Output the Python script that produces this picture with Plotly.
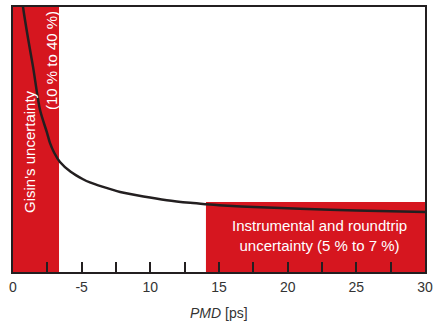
import plotly.graph_objects as go

# curve (PMD in ps, relative uncertainty on an arbitrary 0-1 scale)
pmd = [0.55, 0.73, 1.1, 1.46, 1.97, 2.48, 2.69, 3.0, 3.42, 4.2, 5.1, 5.6, 6.5, 7.8, 9.5, 11.2, 12.9, 14.0, 15.0, 18.0, 20.9, 25.0, 30.0]
uncert = [1.08, 1.0, 0.88, 0.774, 0.611, 0.525, 0.487, 0.45, 0.415, 0.378, 0.350, 0.338, 0.322, 0.302, 0.285, 0.271, 0.261, 0.256, 0.252, 0.244, 0.239, 0.232, 0.226]

# shaded regions
gisin_band = [0, 3.35]
instr_band = [14.05, 30]
instr_top = 0.264

tick_vals = [0, 2.5, 5, 7.5, 10, 12.5, 15, 17.5, 20, 22.5, 25, 27.5, 30]
tick_text = ["0", "", "-5", "", "10", "", "15", "", "20", "", "25", "", "30"]

red = "#d6161f"
font = "Liberation Sans, Arial, sans-serif"

fig = go.Figure()
fig.add_trace(go.Scatter(
    x=pmd, y=uncert, mode="lines",
    line=dict(color="#231f20", width=2.5, shape="spline", smoothing=0.8),
    hoverinfo="skip", showlegend=False,
))

fig.add_shape(type="rect", xref="x", yref="y", layer="below",
              x0=gisin_band[0], x1=gisin_band[1], y0=0, y1=1,
              fillcolor=red, line_width=0)
fig.add_shape(type="rect", xref="x", yref="y", layer="below",
              x0=instr_band[0], x1=instr_band[1], y0=0, y1=instr_top,
              fillcolor=red, line_width=0)

fig.add_annotation(x=1.24, y=0.453, xref="x", yref="y", text="Gisin's uncertainty",
                   textangle=-90, showarrow=False,
                   font=dict(family=font, size=15, color="white"))
fig.add_annotation(x=2.77, y=0.796, xref="x", yref="y", text="(10 % to 40 %)",
                   textangle=-90, showarrow=False,
                   font=dict(family=font, size=15, color="white"))
fig.add_annotation(x=22.3, y=0.137, xref="x", yref="y",
                   text="Instrumental and roundtrip<br>uncertainty (5 % to 7 %)",
                   showarrow=False, align="center",
                   font=dict(family=font, size=15, color="white"))

# axis title
fig.add_annotation(x=0.5, y=-0.155, xref="paper", yref="paper",
                   text="<i>PMD</i> [ps]", showarrow=False, yanchor="middle",
                   font=dict(family=font, size=14, color="#333333"))

fig.update_xaxes(
    range=[0, 30], tickvals=tick_vals, ticktext=tick_text,
    ticks="inside", ticklen=10, tickwidth=1.5, tickcolor="#231f20",
    showline=True, linecolor="#231f20", linewidth=1.5, mirror=True,
    showgrid=False, zeroline=False, automargin=False,
    ticklabelstandoff=1,
    tickfont=dict(family=font, size=14, color="#333333"),
)
fig.update_yaxes(
    range=[0, 1], showticklabels=False, ticks="",
    showline=True, linecolor="#231f20", linewidth=1.5, mirror=True,
    showgrid=False, zeroline=False, automargin=False,
)

fig.update_layout(
    width=434, height=321,
    margin=dict(l=13, r=9, t=7, b=49),
    plot_bgcolor="white", paper_bgcolor="white",
)

# drop the browser's default page margin so the figure sits at the window origin
fig.write_html("out.html", config={"displayModeBar": False},
               post_script="document.body.style.margin='0';document.body.style.overflow='hidden';")
